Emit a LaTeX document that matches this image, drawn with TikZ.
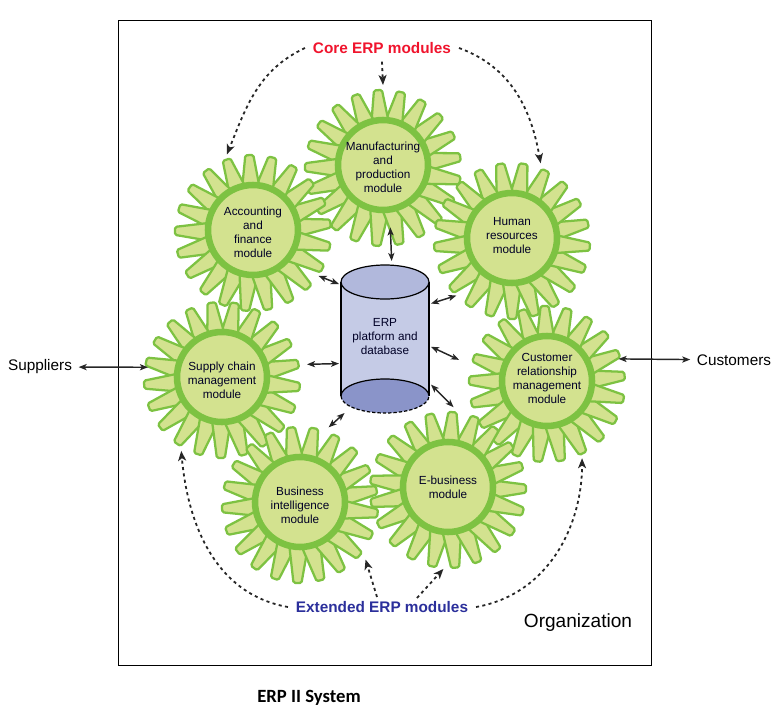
\documentclass[tikz,border=0pt]{standalone}
\usepackage{fontspec}
\setmainfont{Liberation Sans}
\newfontfamily\captionfont{Carlito}
\usepackage{xcolor}
\usetikzlibrary{arrows.meta}
\definecolor{gearline}{HTML}{7DC242}
\definecolor{gearfill}{HTML}{D3E28F}
\definecolor{dbbody}{HTML}{C5CBE6}
\definecolor{dbtop}{HTML}{B1B8DC}
\definecolor{dbbottom}{HTML}{8A94C9}
\definecolor{coretext}{HTML}{F0142D}
\definecolor{exttext}{HTML}{2B2F9B}
\tikzset{
	gearspike/.style={draw=gearline,fill=gearfill,line width=1.7pt,rounded corners=1.2pt,line join=round},
	gearring/.style={circle,draw=gearline,fill=gearfill,line width=4.9pt,minimum size=67.5pt,inner sep=0pt},
	geartext/.style={inner sep=0pt,align=center,font=\fontsize{8.8}{10.5}\selectfont,text=black!85!blue},
	gearouter/.style={circle,minimum size=120pt,inner sep=0pt,outer sep=0pt},
	linkarrow/.style={{Stealth[length=6pt,width=4.6pt,inset=1.5pt]}-{Stealth[length=6pt,width=4.6pt,inset=1.5pt]},line width=1.1pt,black!85},
	dotarrow/.style={-{Stealth[length=7.5pt,width=6pt,inset=2pt]},line width=1.35pt,black!85,dash pattern=on 2.3pt off 2.5pt}
}
% one module wheel: name, centre, phase of the spikes, text, text offset
\newcommand{\gearwheel}[5]{
	\begin{scope}[shift={(#2)}]
		\foreach \k in {0,...,20}
			\draw[gearspike,shift={(0,3)},rotate=\k*17.143+#3] (40,-9.5) -- (78,-4) -- (78,4) -- (40,9.5) -- cycle;
		\node[gearouter] (#1) at (0,0) {};
		\node[gearring] (#1Ring) at (0,0) {};
		\node[geartext] (#1Text) at (0,#5) {#4};
	\end{scope}
}
\begin{document}
\begin{tikzpicture}[x=0.75pt,y=-0.75pt]
	\useasboundingbox (0,0) rectangle (779,714);
	
	% organization frame
	\draw[line width=0.7pt] (118.5,20.5) rectangle (651.5,665.5);
	
	% extended modules
	\gearwheel{crm}{547,381}{6}{Customer\\relationship\\management\\module}{-2.5}
	\gearwheel{supply}{222,377}{12}{Supply chain\\management\\module}{3}
	\gearwheel{ebiz}{448,487}{1}{E-business\\module}{0}
	\gearwheel{bi}{300,502}{11}{Business\\intelligence\\module}{3}
	
	% core modules
	\gearwheel{manu}{383,165}{8}{Manufacturing\\and\\production\\module}{2.5}
	\gearwheel{hr}{512,238}{13}{Human\\resources\\module}{-2}
	\gearwheel{acc}{253,230}{7}{Accounting\\and\\finance\\module}{2}
	
	% database
	\fill[dbbody] (341,282) -- (341,396) arc (180:360:44 and 17) -- (429,282) -- cycle;
	\draw[line width=0.9pt] (341,282) -- (341,396);
	\draw[line width=0.9pt] (429,282) -- (429,396);
	\draw[fill=dbbottom,line width=0.9pt] (341,396) arc (180:360:44 and 17);
	\fill[dbbottom] (341,396) arc (180:0:44 and 17);
	\draw[line width=0.9pt,dash pattern=on 2.5pt off 1.5pt] (341,396) arc (180:0:44 and 17);
	\draw[fill=dbtop,line width=0.9pt] (385,282) ellipse (44 and 17);
	\node[minimum width=66pt,minimum height=111pt,inner sep=0pt,outer sep=1.5pt,align=center,font=\fontsize{8.8}{10.5}\selectfont,text=black!85!blue] (db) at (385,337) {ERP\\platform and\\database};
	
	% labels
	\node[font=\bfseries\fontsize{11.5}{14}\selectfont,text=coretext,inner sep=0pt,outer sep=6pt] (core) at (382,48) {Core ERP modules};
	\node[font=\bfseries\fontsize{11.5}{14}\selectfont,text=exttext,inner sep=0pt,outer sep=6pt] (ext) at (382,607) {Extended ERP modules};
	\node[font=\fontsize{14.3}{17}\selectfont,inner sep=0pt] (org) at (578,622.5) {Organization};
	\node[font=\fontsize{11.5}{14}\selectfont,inner sep=0pt,outer sep=5pt] (suppliers) at (40,367) {Suppliers};
	\node[font=\fontsize{11.5}{14}\selectfont,inner sep=0pt,outer sep=5pt] (customers) at (734,360) {Customers};
	\node[font=\captionfont\bfseries\fontsize{14}{16}\selectfont,inner sep=0pt] (title) at (309,698) {ERP II System};
	
	% database links
	\draw[linkarrow,shorten <=11pt] (manuRing.-82) -- (db.85);
	\draw[linkarrow] (acc.-35) -- (db.131);
	\draw[linkarrow] (hr.226) -- (db.36);
	\draw[linkarrow,shorten <=4.5pt] (supply.9) -- (db.210);
	\draw[linkarrow,shorten <=8pt] (crm.168) -- (db.-12);
	\draw[linkarrow] (ebiz.86) -- (db.-46);
	\draw[linkarrow] (bi.69) -- (db.242);
	
	% outside links
	\draw[linkarrow,shorten >=-4pt] (suppliers) -- (supply.173);
	\draw[linkarrow,shorten <=-4pt] (crm.16) -- (customers);
	
	% core modules arrows
	\draw[dotarrow] (core.west) to[out=205,in=68] (acc.109);
	\draw[dotarrow] (core.south) -- (manu.90);
	\draw[dotarrow] (core.east) to[out=-20,in=100] (hr.69);
	
	% extended modules arrows
	\coordinate (extLeft) at (377,597);
	\coordinate (extRight) at (417,598);
	\draw[dotarrow,shorten >=4pt] (ext.west) to[out=170,in=-85] (supply.239);
	\draw[dotarrow,shorten >=6.5pt] (extLeft) -- (bi.-38);
	\draw[dotarrow,shorten >=2pt] (extRight) -- (ebiz.-92);
	\draw[dotarrow,shorten >=4pt] (ext.east) to[out=10,in=-90] (crm.-64);
	
\end{tikzpicture}
\end{document}
